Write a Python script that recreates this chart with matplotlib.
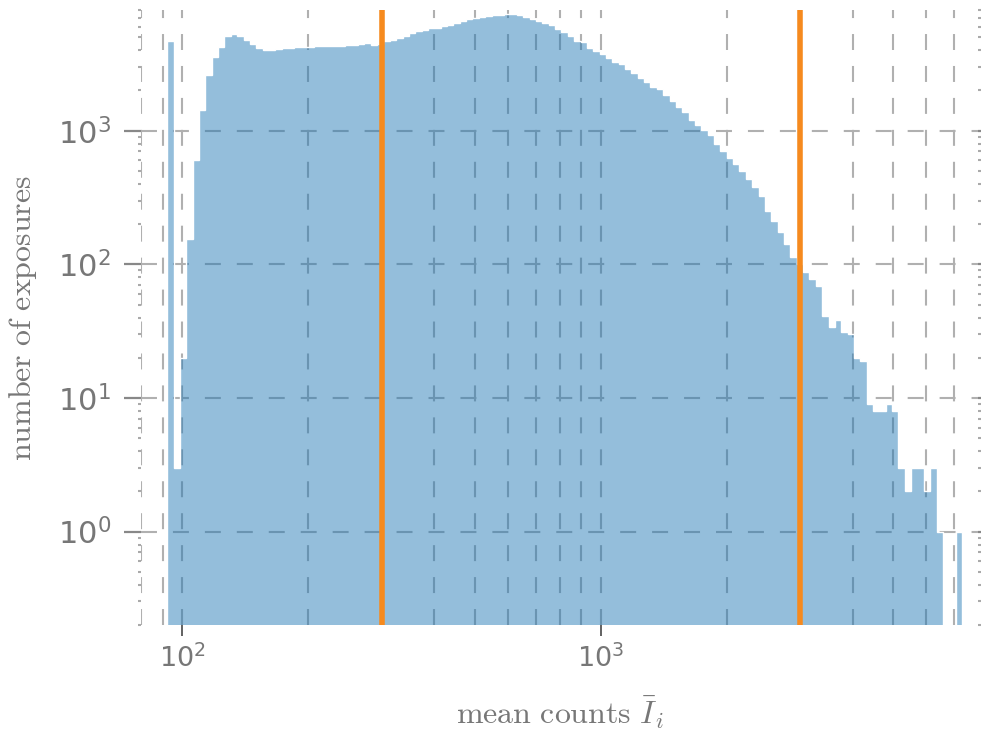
import numpy as np
import matplotlib
matplotlib.use("Agg")
import matplotlib.pyplot as plt

# histogram of mean counts per exposure (counts per log-spaced bin)
bin_lo = 92.2
bin_hi = 7300.0
n_bins = 125
counts = [4680, 3, 20, 154, 600, 1420, 2630, 3570, 4240, 5070,
          5330, 5130, 4760, 4440, 4170, 4050, 4000, 4100, 4130, 4170,
          4200, 4240, 4260, 4270, 4290, 4320, 4340, 4340, 4380, 4380,
          4460, 4560, 4400, 4460, 4720, 4790, 4900, 5070, 5400, 5600,
          5690, 5820, 5890, 6030, 6200, 6400, 6620, 6830, 6990, 7110,
          7270, 7360, 7400, 7440, 7440, 7340, 7110, 6880, 6650, 6450,
          6170, 5770, 5500, 5130, 4680, 4620, 4180, 3940, 3780, 3520,
          3280, 3130, 2920, 2680, 2490, 2320, 2130, 2040, 1840, 1660,
          1510, 1380, 1195, 1100, 1005, 930, 800, 710, 620, 560,
          500, 436, 380, 325, 250, 211, 175, 142, 113, 100,
          88, 78, 69, 41, 34, 38, 31, 30, 20, 19,
          9, 8, 8, 9, 8, 3, 2, 3, 3, 2,
          3, 1, 0, 0, 1]
cuts = [300, 3000]

plt.rcParams['lines.scale_dashes'] = False
plt.rcParams['mathtext.fontset'] = 'cm'

edges = np.logspace(np.log10(bin_lo), np.log10(bin_hi), n_bins + 1)
base = 1e-2
vals = np.maximum(np.array(counts, dtype=float), base)

fig = plt.figure(figsize=(9.81, 7.32), dpi=100)
ax = fig.add_axes([0.1442, 0.1462, 0.8525, 0.8401])
ax.set_xscale('log')
ax.set_yscale('log')

ax.stairs(vals, edges, fill=True, baseline=base,
          facecolor=(0.122, 0.467, 0.706, 0.48), edgecolor='white',
          linewidth=1.0, zorder=2)
for c in cuts:
    ax.axvline(c, color='#f68a1e', lw=4, zorder=3)

ax.set_xlim(80, 7960)
ax.set_ylim(0.2, 8000)

ax.set_axisbelow(True)
gstyle = dict(color='#b0b0b0', lw=1.5, ls=(0, (11.5, 11.5)))
ax.grid(which='major', axis='both', **gstyle)
ax.grid(which='minor', axis='x', **gstyle)

for s in ax.spines.values():
    s.set_visible(False)

ax.tick_params(axis='x', which='major', direction='out', length=8, width=1.3,
               color='#555555', labelsize=19.5, labelcolor='#777777', pad=6)
ax.tick_params(axis='x', which='minor', length=0)
ax.tick_params(axis='y', which='major', direction='out', length=12, width=1.6,
               color='#888888', left=True, right=True, labelsize=22,
               labelcolor='#777777', pad=10)
ax.tick_params(axis='y', which='minor', direction='out', length=2, width=1.5,
               color='#aaaaaa', left=True, right=True)

ax.set_ylabel(r'$\mathrm{number\ of\ exposures}$', fontsize=23, color='#777777')
ax.yaxis.set_label_coords(-0.122, 0.5)
ax.set_xlabel(r'$\mathrm{mean\ counts}\ \bar{I}_i$', fontsize=23, color='#777777')
ax.xaxis.set_label_coords(0.5, -0.113)

fig.savefig('out.png', dpi=100)
